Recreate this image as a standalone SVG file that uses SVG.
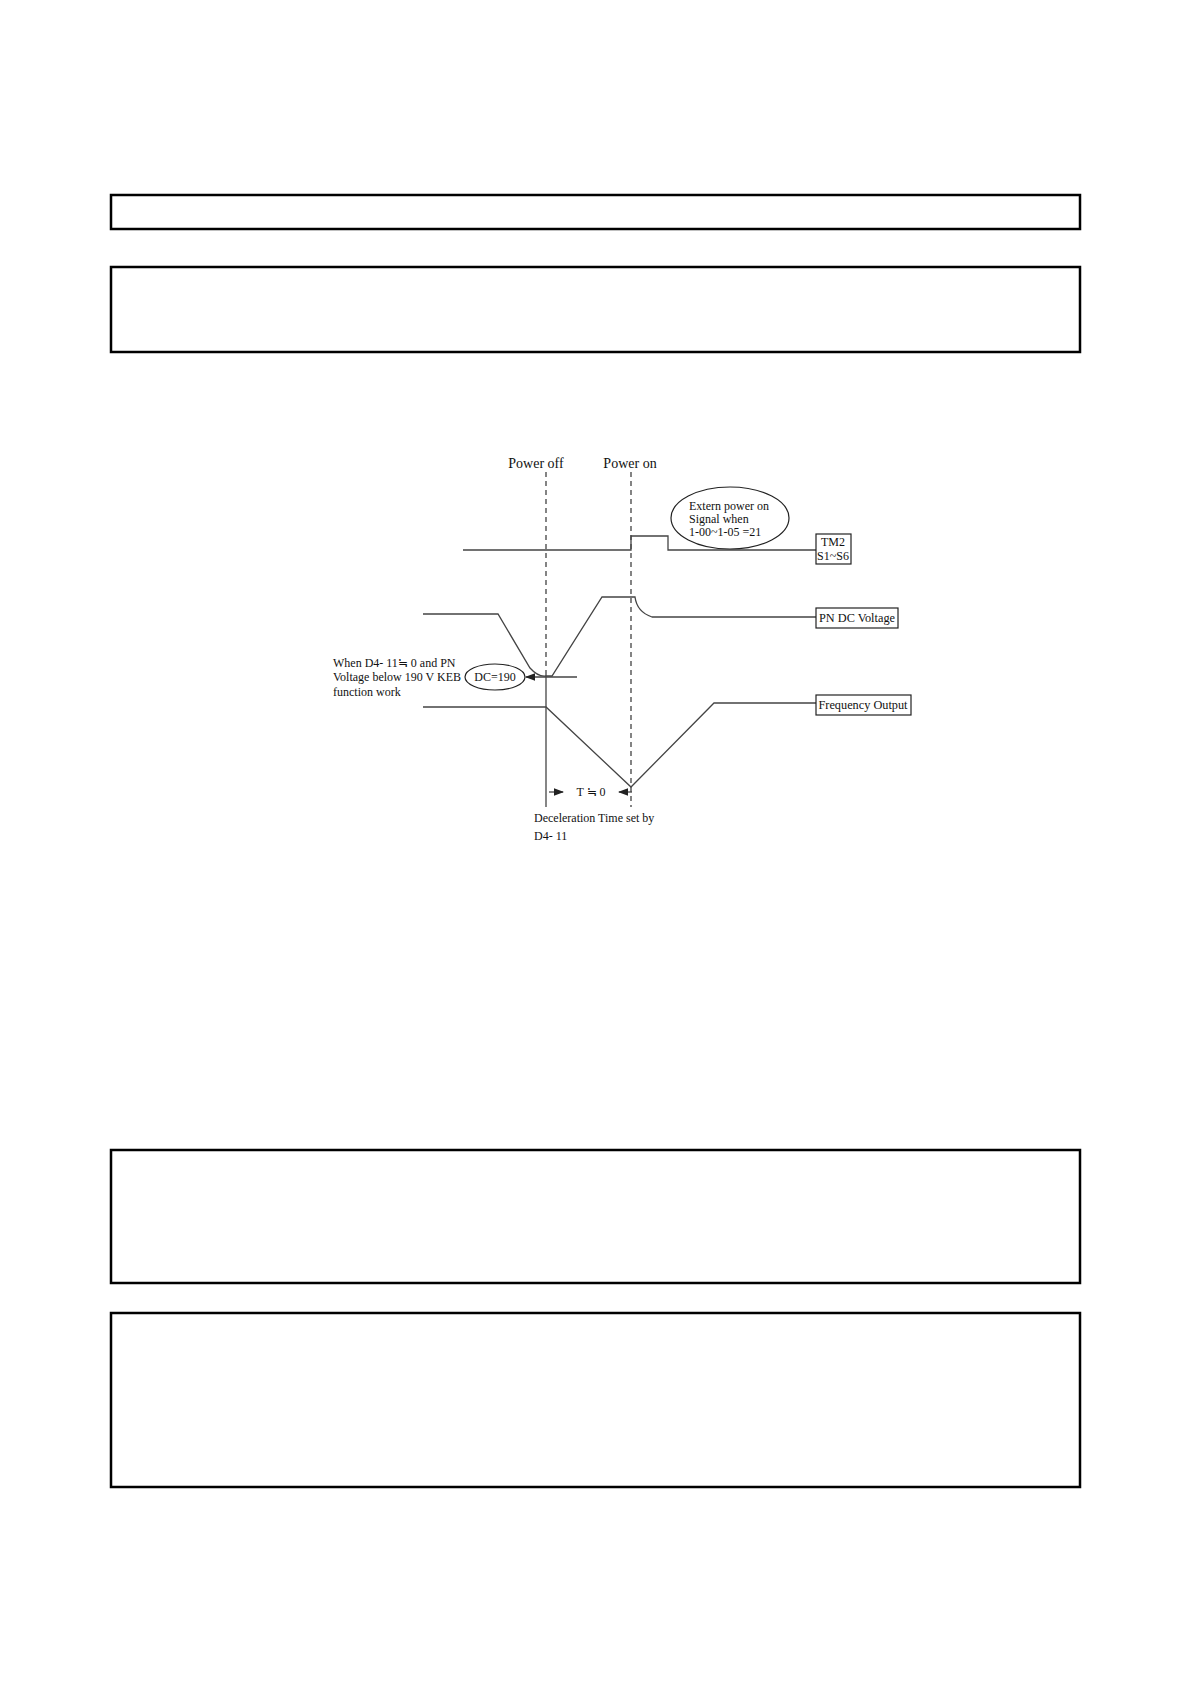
<svg xmlns="http://www.w3.org/2000/svg" width="1190" height="1684" viewBox="0 0 1190 1684">
<style>
.box{fill:none;stroke:#000;stroke-width:2.5}
.ln{fill:none;stroke:#444;stroke-width:1.3}
.dash{fill:none;stroke:#333;stroke-width:1.2;stroke-dasharray:5,4}
.lbl{fill:none;stroke:#222;stroke-width:1.2}
text{font-family:"Liberation Serif",serif;fill:#111}
.s{font-size:12px}
.m{font-size:14px}
</style>
<defs>
<marker id="ah" markerWidth="8" markerHeight="6" refX="7" refY="3" orient="auto"><path d="M0,0 L8,3 L0,6 z" fill="#222"/></marker>
</defs>
<rect fill="#fff" width="1190" height="1684"/>
<g id="frames">
<rect class="box" x="111" y="195" width="969" height="34"/>
<rect class="box" x="111" y="267" width="969" height="85"/>
<rect class="box" x="111" y="1150" width="969" height="133"/>
<rect class="box" x="111" y="1313" width="969" height="174"/>
</g>
<g id="markers">
<text class="m" x="536" y="468" text-anchor="middle">Power off</text>
<text class="m" x="630" y="468" text-anchor="middle">Power on</text>
<line class="dash" x1="546" y1="472" x2="546" y2="673"/>
<line class="ln" x1="546" y1="673" x2="546" y2="807"/>
<line class="dash" x1="631" y1="472" x2="631" y2="807"/>
</g>
<g id="connectors">
<polyline class="ln" points="463,550 631,550 631,536 668,536 668,550 816,550"/>
<path class="ln" d="M423,614 L498,614 L530,668 Q538,677 546,676 L552,676 L602,597 L635,597 Q637,612 652,617 L816,617"/>
<line class="ln" x1="577" y1="677" x2="526" y2="677" marker-end="url(#ah)"/>
<polyline class="ln" points="423,707 546,707 631,787 714,703 816,703"/>
<line class="ln" x1="549" y1="792" x2="563" y2="792" marker-end="url(#ah)"/>
<line class="ln" x1="632" y1="792" x2="619" y2="792" marker-end="url(#ah)"/>
</g>
<g id="n-extern">
<ellipse class="lbl" cx="730" cy="518" rx="59" ry="31"/>
<text class="s" x="689" y="510">Extern power on</text>
<text class="s" x="689" y="523">Signal when</text>
<text class="s" x="689" y="536">1-00~1-05 =21</text>
</g>
<g id="n-tm2">
<rect class="lbl" x="816" y="534" width="35" height="30"/>
<text class="s" x="833" y="546" text-anchor="middle">TM2</text>
<text class="s" x="833" y="560" text-anchor="middle">S1~S6</text>
</g>
<g id="n-pn">
<rect class="lbl" x="816" y="608" width="82" height="20"/>
<text class="s" x="857" y="622" text-anchor="middle" textLength="76" lengthAdjust="spacingAndGlyphs">PN DC Voltage</text>
</g>
<g id="n-dc">
<ellipse class="lbl" cx="495" cy="677" rx="30" ry="13"/>
<text class="s" x="495" y="681" text-anchor="middle">DC=190</text>
</g>
<g id="n-keb">
<text class="s" x="333" y="667">When D4- 11≒ 0 and PN</text>
<text class="s" x="333" y="681">Voltage below 190 V KEB</text>
<text class="s" x="333" y="696">function work</text>
</g>
<g id="n-freq">
<rect class="lbl" x="816" y="695" width="95" height="20"/>
<text class="s" x="863" y="709" text-anchor="middle" textLength="89" lengthAdjust="spacingAndGlyphs">Frequency Output</text>
</g>
<g id="n-t">
<text class="s" x="591" y="796" text-anchor="middle">T ≒ 0</text>
<text class="s" x="534" y="822">Deceleration Time set by</text>
<text class="s" x="534" y="840">D4- 11</text>
</g>
</svg>
